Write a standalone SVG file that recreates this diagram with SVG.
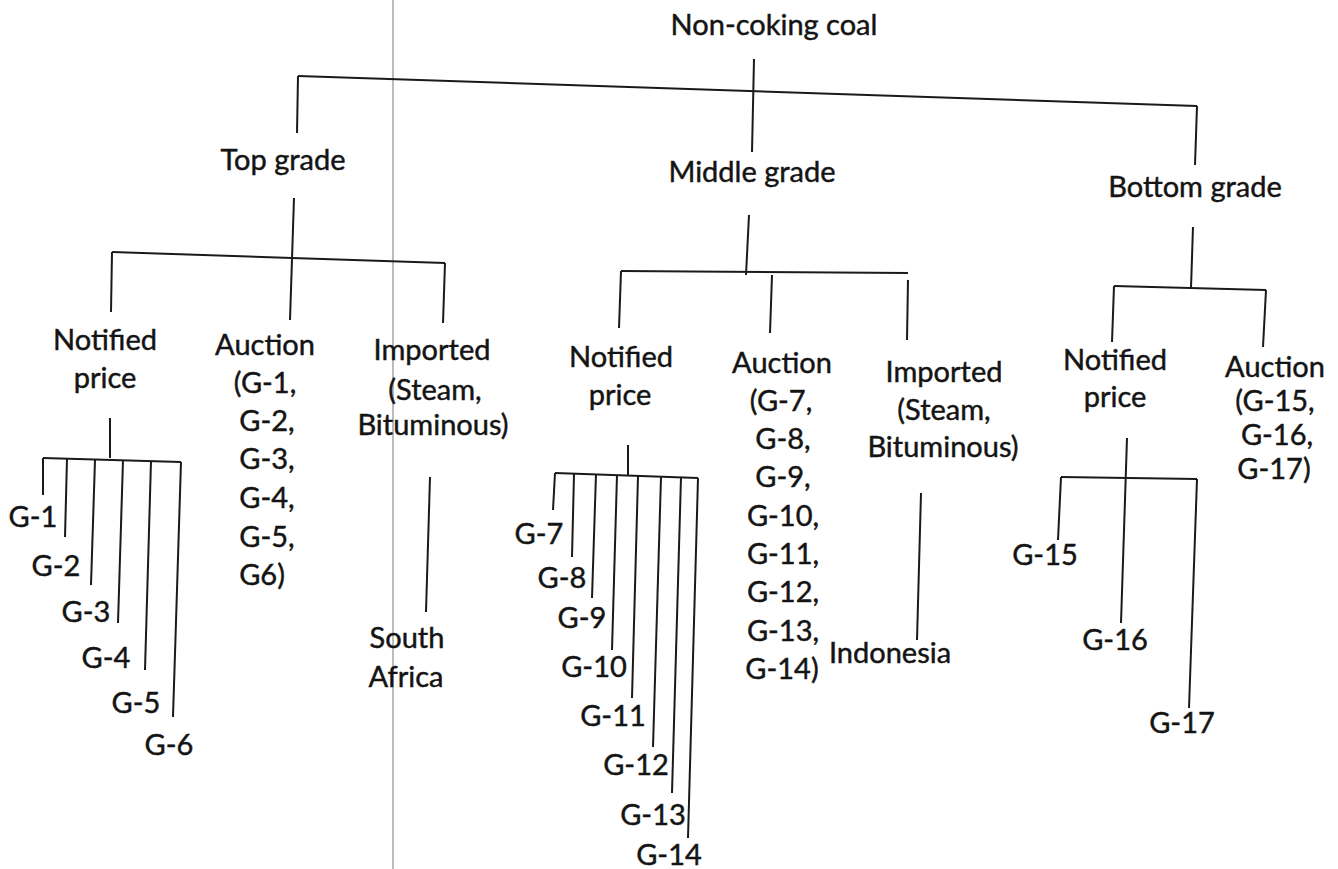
<svg xmlns="http://www.w3.org/2000/svg" width="1338" height="869" viewBox="0 0 1338 869">
<style>
.lbl{font-family:Lato,"Open Sans","Liberation Sans",sans-serif;font-size:29px;fill:#141414;stroke:#141414;stroke-width:0.45;text-anchor:middle}
.ln{stroke:#1a1a1a;stroke-width:2;fill:none;stroke-linecap:butt}
.scan{stroke:#8f8f8f;stroke-width:1.2}
</style>
<rect x="0" y="0" width="1338" height="869" fill="#ffffff"/>
<g id="scan-fold"><line class="scan" x1="393" y1="0" x2="393" y2="869"/></g>
<g id="connectors">
<line class="ln" x1="754" y1="59" x2="752" y2="152"/>
<line class="ln" x1="298" y1="76" x2="1197" y2="106"/>
<line class="ln" x1="298" y1="76" x2="297" y2="133"/>
<line class="ln" x1="1197" y1="106" x2="1195" y2="165"/>
<line class="ln" x1="294" y1="198" x2="290" y2="320"/>
<line class="ln" x1="112" y1="252" x2="445" y2="263"/>
<line class="ln" x1="112" y1="252" x2="111" y2="312"/>
<line class="ln" x1="445" y1="263" x2="443" y2="323"/>
<line class="ln" x1="749" y1="215" x2="746" y2="275"/>
<line class="ln" x1="621" y1="271" x2="908" y2="273"/>
<line class="ln" x1="621" y1="271" x2="619" y2="328"/>
<line class="ln" x1="772" y1="275" x2="770" y2="333"/>
<line class="ln" x1="908" y1="280" x2="907" y2="340"/>
<line class="ln" x1="1193" y1="227" x2="1191" y2="288"/>
<line class="ln" x1="1114" y1="286" x2="1266" y2="290"/>
<line class="ln" x1="1114" y1="286" x2="1112" y2="342"/>
<line class="ln" x1="1266" y1="290" x2="1263" y2="347"/>
<line class="ln" x1="110" y1="418" x2="110" y2="458"/>
<line class="ln" x1="43" y1="458" x2="181" y2="462"/>
<line class="ln" x1="43" y1="458" x2="43" y2="495"/>
<line class="ln" x1="67" y1="459" x2="65" y2="537"/>
<line class="ln" x1="95" y1="460" x2="91" y2="585"/>
<line class="ln" x1="123" y1="460" x2="118" y2="623"/>
<line class="ln" x1="151" y1="461" x2="145" y2="670"/>
<line class="ln" x1="181" y1="462" x2="173" y2="717"/>
<line class="ln" x1="430" y1="477" x2="426" y2="612"/>
<line class="ln" x1="628" y1="445" x2="628" y2="475"/>
<line class="ln" x1="555" y1="473" x2="698" y2="478"/>
<line class="ln" x1="555" y1="473" x2="553" y2="510"/>
<line class="ln" x1="574" y1="474" x2="572" y2="557"/>
<line class="ln" x1="596" y1="474" x2="592" y2="598"/>
<line class="ln" x1="617" y1="475" x2="612" y2="650"/>
<line class="ln" x1="638" y1="476" x2="632" y2="698"/>
<line class="ln" x1="661" y1="477" x2="653" y2="747"/>
<line class="ln" x1="681" y1="477" x2="672" y2="793"/>
<line class="ln" x1="698" y1="478" x2="688" y2="838"/>
<line class="ln" x1="921" y1="493" x2="917" y2="640"/>
<line class="ln" x1="1127" y1="438" x2="1121" y2="623"/>
<line class="ln" x1="1061" y1="477" x2="1197" y2="479"/>
<line class="ln" x1="1061" y1="477" x2="1058" y2="540"/>
<line class="ln" x1="1197" y1="479" x2="1189" y2="708"/>
</g>
<g id="n-root"><text class="lbl" x="774" y="35">Non-coking coal</text></g>
<g id="n-top"><text class="lbl" x="283" y="170">Top grade</text></g>
<g id="n-middle"><text class="lbl" x="752" y="182">Middle grade</text></g>
<g id="n-bottom"><text class="lbl" x="1195" y="197">Bottom grade</text></g>
<g id="n-top-notified"><text class="lbl" x="105" y="350">Notified</text><text class="lbl" x="105" y="388">price</text></g>
<g id="n-top-auction"><text class="lbl" x="265" y="355">Auction</text><text class="lbl" x="265" y="393">(G-1,</text><text class="lbl" x="267" y="431">G-2,</text><text class="lbl" x="267" y="469">G-3,</text><text class="lbl" x="267" y="508">G-4,</text><text class="lbl" x="267" y="547">G-5,</text><text class="lbl" x="262" y="585">G6)</text></g>
<g id="n-top-imported"><text class="lbl" x="432" y="360">Imported</text><text class="lbl" x="435" y="400">(Steam,</text><text class="lbl" x="433" y="435">Bituminous)</text></g>
<g id="n-south-africa"><text class="lbl" x="407" y="648">South</text><text class="lbl" x="406" y="687">Africa</text></g>
<g id="n-g1"><text class="lbl" x="33" y="527">G-1</text></g>
<g id="n-g2"><text class="lbl" x="56" y="576">G-2</text></g>
<g id="n-g3"><text class="lbl" x="86" y="622">G-3</text></g>
<g id="n-g4"><text class="lbl" x="106" y="668">G-4</text></g>
<g id="n-g5"><text class="lbl" x="136" y="713">G-5</text></g>
<g id="n-g6"><text class="lbl" x="169" y="755">G-6</text></g>
<g id="n-mid-notified"><text class="lbl" x="621" y="367">Notified</text><text class="lbl" x="620" y="405">price</text></g>
<g id="n-mid-auction"><text class="lbl" x="782" y="373">Auction</text><text class="lbl" x="781" y="411">(G-7,</text><text class="lbl" x="783" y="449">G-8,</text><text class="lbl" x="783" y="487">G-9,</text><text class="lbl" x="783" y="526">G-10,</text><text class="lbl" x="783" y="564">G-11,</text><text class="lbl" x="783" y="602">G-12,</text><text class="lbl" x="783" y="641">G-13,</text><text class="lbl" x="782" y="679">G-14)</text></g>
<g id="n-mid-imported"><text class="lbl" x="944" y="382">Imported</text><text class="lbl" x="944" y="420">(Steam,</text><text class="lbl" x="943" y="457">Bituminous)</text></g>
<g id="n-indonesia"><text class="lbl" x="890" y="663">Indonesia</text></g>
<g id="n-g7"><text class="lbl" x="539" y="544">G-7</text></g>
<g id="n-g8"><text class="lbl" x="562" y="588">G-8</text></g>
<g id="n-g9"><text class="lbl" x="582" y="628">G-9</text></g>
<g id="n-g10"><text class="lbl" x="594" y="677">G-10</text></g>
<g id="n-g11"><text class="lbl" x="613" y="726">G-11</text></g>
<g id="n-g12"><text class="lbl" x="636" y="775">G-12</text></g>
<g id="n-g13"><text class="lbl" x="653" y="825">G-13</text></g>
<g id="n-g14"><text class="lbl" x="669" y="865">G-14</text></g>
<g id="n-bot-notified"><text class="lbl" x="1115" y="370">Notified</text><text class="lbl" x="1115" y="407">price</text></g>
<g id="n-bot-auction"><text class="lbl" x="1275" y="377">Auction</text><text class="lbl" x="1275" y="411">(G-15,</text><text class="lbl" x="1277" y="445">G-16,</text><text class="lbl" x="1274" y="479">G-17)</text></g>
<g id="n-g15"><text class="lbl" x="1045" y="565">G-15</text></g>
<g id="n-g16"><text class="lbl" x="1115" y="650">G-16</text></g>
<g id="n-g17"><text class="lbl" x="1182" y="733">G-17</text></g>
</svg>
